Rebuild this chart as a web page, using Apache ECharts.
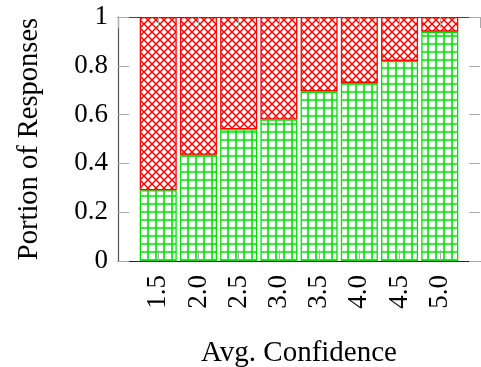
<!DOCTYPE html>
<html>
<head>
<meta charset="utf-8">
<script src="https://cdn.jsdelivr.net/npm/echarts@6/dist/echarts.min.js"></script>
<style>
  html, body { margin: 0; padding: 0; background: #fff; }
  #charts { width: 481px; height: 367px; }
</style>
</head>
<body>
<div id="charts"></div>
<script>
// avg. confidence buckets
const categories = [1.5, 2.0, 2.5, 3.0, 3.5, 4.0, 4.5, 5.0];
// green part (lower) and red part (upper) of each bar
const correct = [0.29, 0.435, 0.54, 0.58, 0.695, 0.73, 0.82, 0.94];
const incorrect = [0.71, 0.565, 0.46, 0.42, 0.305, 0.27, 0.18, 0.06];

// hatch patterns like pgfplots "grid" and "crosshatch"
function gridPattern(color) {
    const c = document.createElement('canvas');
    c.width = 8; c.height = 8;
    const ctx = c.getContext('2d');
    ctx.strokeStyle = color;
    ctx.lineWidth = 1.6;
    ctx.beginPath();
    ctx.moveTo(4, 0); ctx.lineTo(4, 8);
    ctx.moveTo(0, 4); ctx.lineTo(8, 4);
    ctx.stroke();
    return c;
}
function crossPattern(color) {
    const c = document.createElement('canvas');
    c.width = 8; c.height = 8;
    const ctx = c.getContext('2d');
    ctx.strokeStyle = color;
    ctx.lineWidth = 1.5;
    ctx.beginPath();
    ctx.moveTo(-1, -1); ctx.lineTo(9, 9);
    ctx.moveTo(9, -1); ctx.lineTo(-1, 9);
    ctx.stroke();
    return c;
}

const font = 'Liberation Serif';
const green = '#00e000';
const red = '#ff0000';
const tickStyle = { show: true, inside: true, length: 11, lineStyle: { color: '#aaa', width: 1 } };

const chart = echarts.init(document.getElementById('charts'));
const option = {
    animation: false,
    grid: { left: 118, right: 1, top: 17, bottom: 106, outerBoundsMode: 'none', containLabel: false },
    xAxis: [
        {
            type: 'value',
            min: 1,
            max: 5.5,
            interval: 0.5,
            z: 5,
            name: 'Avg. Confidence',
            nameLocation: 'middle',
            nameGap: 78,
            nameTextStyle: { fontFamily: font, fontSize: 29, color: '#000' },
            axisLine: { show: true, onZero: false, lineStyle: { color: '#222', width: 1.2 } },
            axisTick: tickStyle,
            axisLabel: {
                rotate: 90,
                margin: 14,
                showMinLabel: false,
                showMaxLabel: false,
                fontFamily: font,
                fontSize: 27,
                color: '#000',
                formatter: v => v.toFixed(1)
            },
            splitLine: { show: false }
        },
        {
            type: 'value',
            position: 'top',
            min: 1,
            max: 5.5,
            interval: 0.5,
            z: 5,
            axisLine: { show: true, onZero: false, lineStyle: { color: '#444', width: 1.2 } },
            axisTick: tickStyle,
            axisLabel: { show: false },
            splitLine: { show: false }
        }
    ],
    yAxis: [
        {
            type: 'value',
            min: 0,
            max: 1,
            interval: 0.2,
            z: 5,
            name: 'Portion of Responses',
            nameLocation: 'middle',
            nameRotate: 90,
            nameGap: 74,
            nameTextStyle: { fontFamily: font, fontSize: 28.5, color: '#000' },
            axisLine: { show: true, onZero: false, lineStyle: { color: '#555', width: 1.2 } },
            axisTick: tickStyle,
            axisLabel: {
                margin: 10,
                fontFamily: font,
                fontSize: 27,
                color: '#000',
                formatter: v => (v === 0 || v === 1) ? String(v) : v.toFixed(1)
            },
            splitLine: { show: false }
        },
        {
            type: 'value',
            position: 'right',
            min: 0,
            max: 1,
            interval: 0.2,
            z: 5,
            axisLine: { show: false, onZero: false },
            axisTick: tickStyle,
            axisLabel: { show: false },
            splitLine: { show: false }
        }
    ],
    series: [
        {
            name: 'correct',
            type: 'bar',
            stack: 'total',
            barWidth: 37,
            encode: { x: 1, y: 0 },
            itemStyle: {
                color: { image: gridPattern(green), repeat: 'repeat' },
                borderColor: green,
                borderWidth: 1.3
            },
            data: categories.map((c, i) => [correct[i], c])
        },
        {
            name: 'incorrect',
            type: 'bar',
            stack: 'total',
            barWidth: 37,
            encode: { x: 1, y: 0 },
            itemStyle: {
                color: { image: crossPattern(red), repeat: 'repeat' },
                borderColor: red,
                borderWidth: 1.3
            },
            data: categories.map((c, i) => [incorrect[i], c])
        }
    ]
};
chart.setOption(option);
</script>
</body>
</html>
